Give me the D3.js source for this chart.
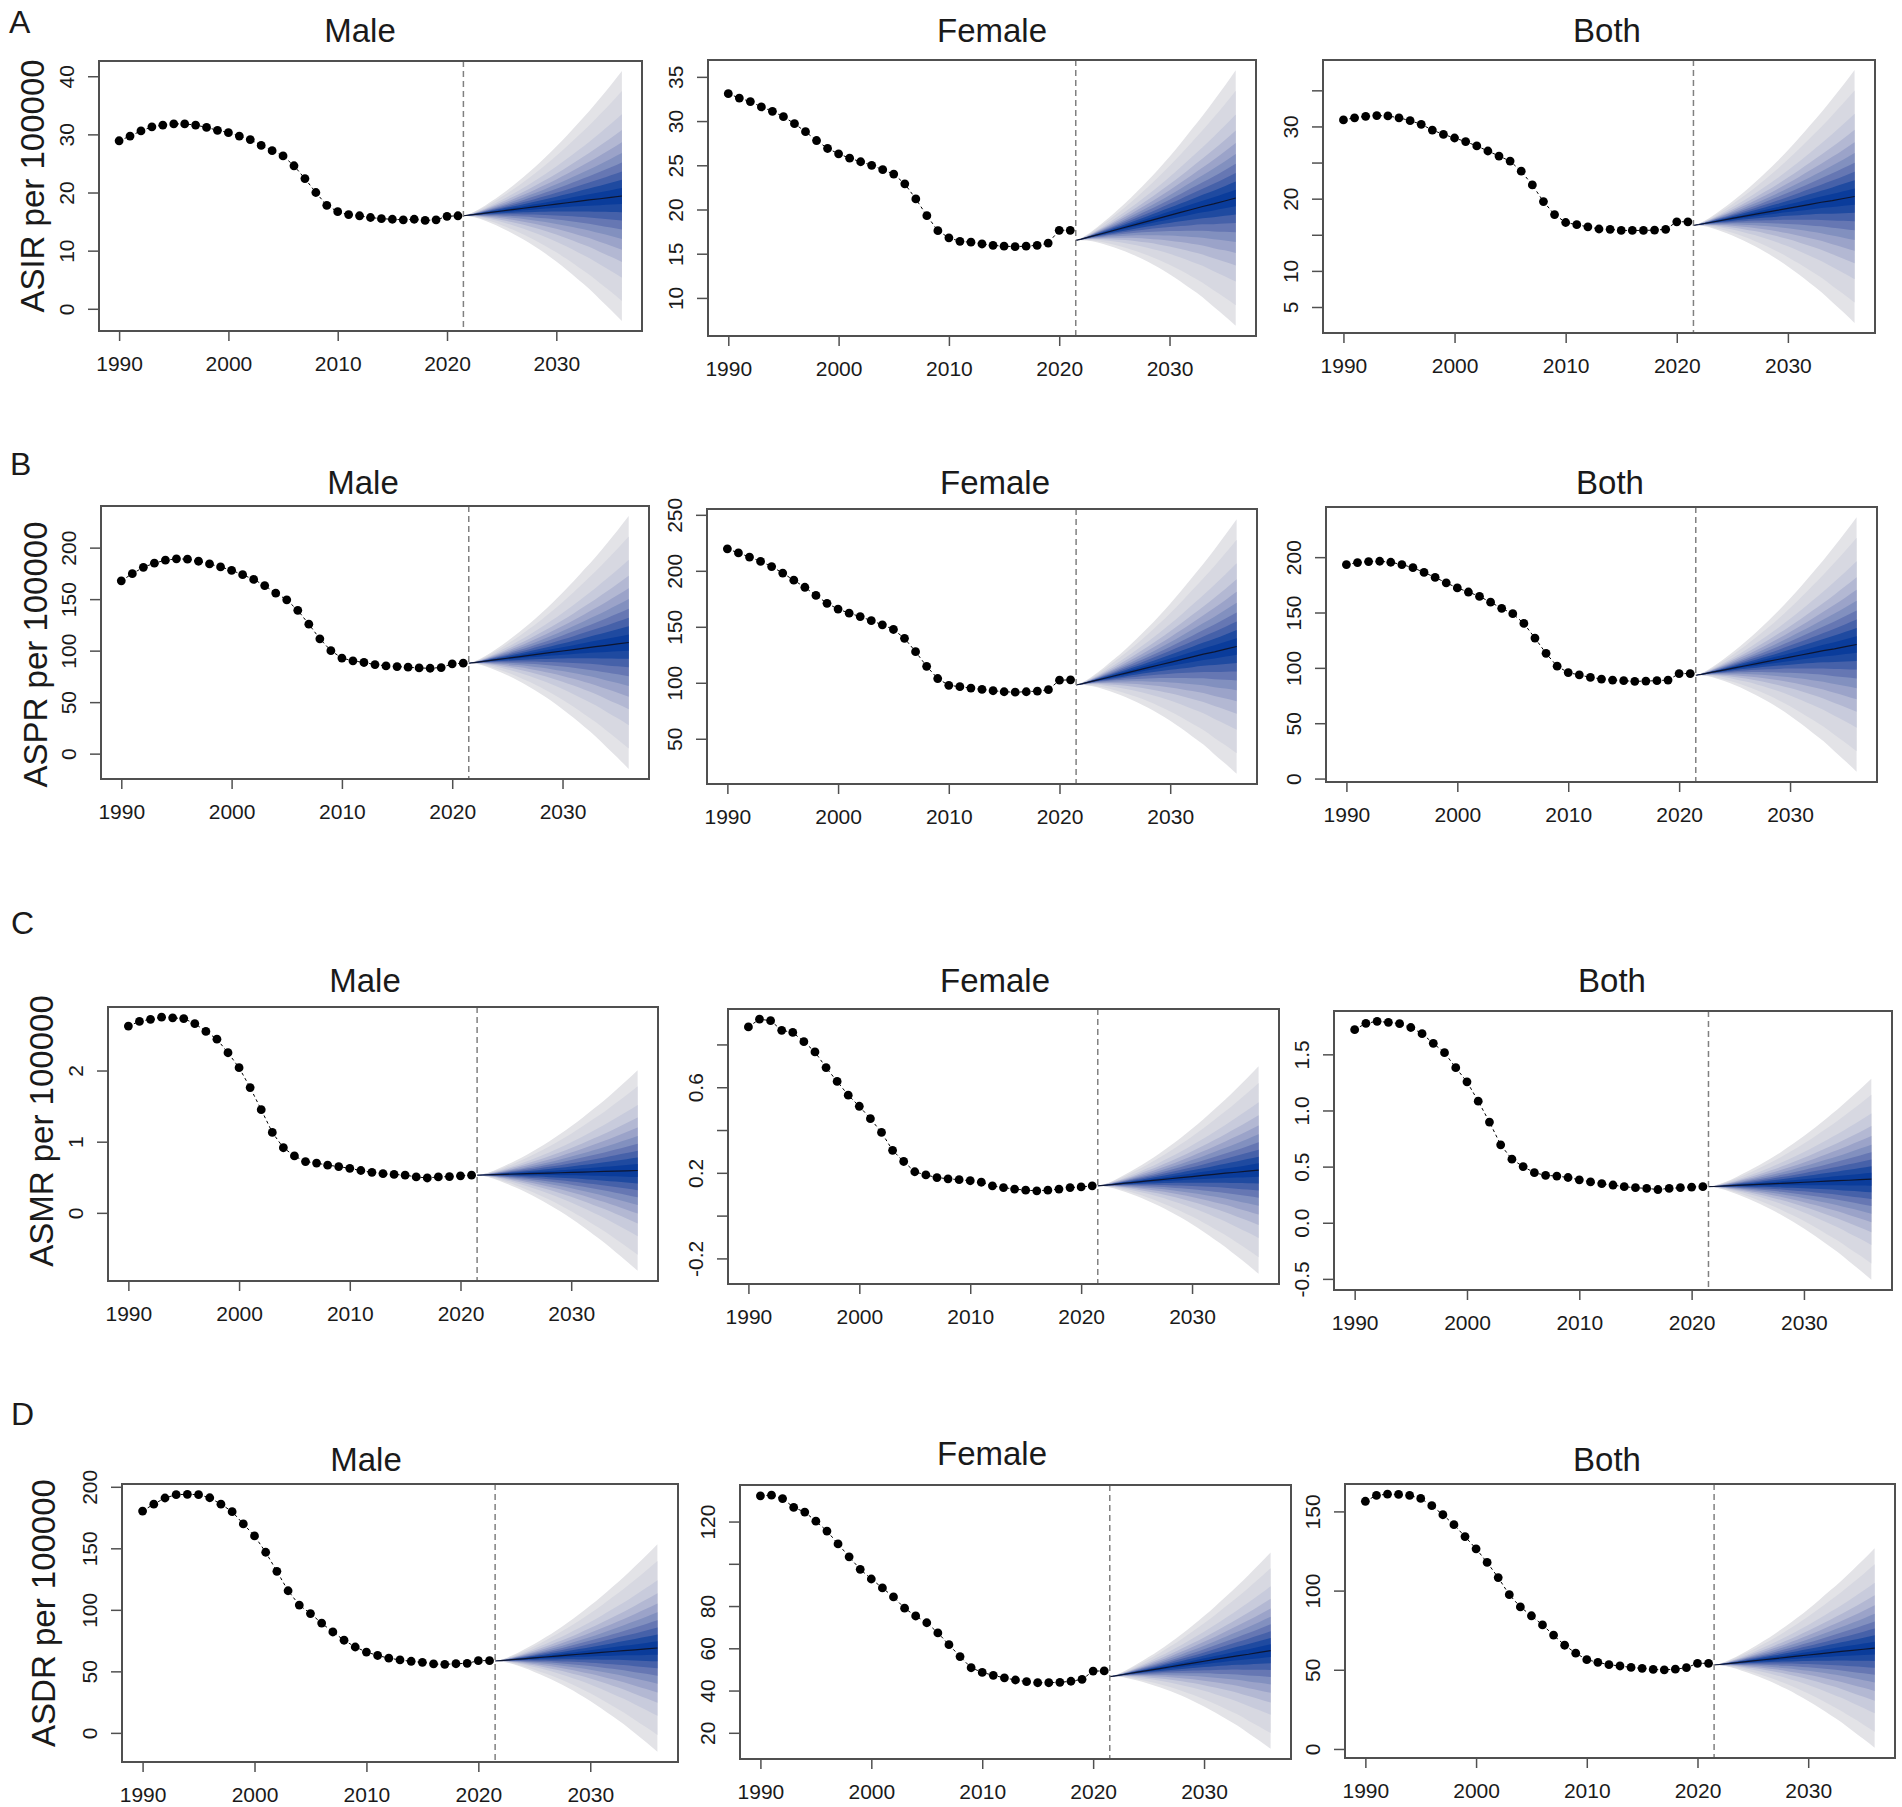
<!DOCTYPE html>
<html>
<head>
<meta charset="utf-8">
<script src="https://cdn.jsdelivr.net/npm/d3@7"></script>
<style>
  body { margin: 0; background: #fff; }
  svg text { font-family: "Liberation Sans", Arial, sans-serif; fill: #1a1a1a; }
</style>
</head>
<body>
<div id="chart"></div>
<script>
// Observed years (1990-2021) and the projection grid (fan starts at the split line)
const years = d3.range(1990, 2022);
const fanYears = [2021.5, 2022, 2023, 2024, 2025, 2026, 2027, 2028, 2029, 2030, 2031, 2032, 2033, 2034, 2035, 2036];
// share of the start->end move of the projected median
const fanTrend = [0, 0.03, 0.10, 0.17, 0.24, 0.31, 0.38, 0.45, 0.52, 0.59, 0.66, 0.73, 0.80, 0.86, 0.93, 1.0];
// share of the final half width of the outer band
const fanSpread = [0, 0.008, 0.04, 0.085, 0.135, 0.19, 0.25, 0.315, 0.385, 0.46, 0.54, 0.625, 0.71, 0.805, 0.90, 1.0];
// normal quantiles of the fan bands (outer -> inner)
const zLevels = [1.96, 1.645, 1.282, 1.036, 0.842, 0.674, 0.524, 0.385, 0.253, 0.126];
const bandColors = ["#e3e3e7", "#d7d8e1", "#c8cbdc", "#b3b8d3", "#9ba3c9", "#8290bf", "#6677b3", "#4661a9", "#1f4aa0", "#0a3c9b"];

const xTicks = [1990, 2000, 2010, 2020, 2030];
const splitYear = 2021.5;
const sexes = ["Male", "Female", "Both"];

// A - incidence
const asirMale = [28.9, 29.7, 30.6, 31.3, 31.6, 31.8, 31.8, 31.6, 31.2, 30.7, 30.3, 29.7, 29.1, 28.1, 27.2, 26.3, 24.6, 22.4, 20.0, 17.8, 16.7, 16.2, 16.0, 15.7, 15.5, 15.4, 15.3, 15.4, 15.2, 15.3, 15.9, 16.0];
const asirFemale = [33.1, 32.6, 32.2, 31.6, 31.1, 30.5, 29.7, 28.8, 27.8, 26.9, 26.3, 25.8, 25.4, 25.0, 24.5, 24.0, 22.9, 21.2, 19.3, 17.6, 16.8, 16.4, 16.3, 16.1, 15.95, 15.85, 15.8, 15.85, 15.95, 16.2, 17.65, 17.65];
const asirBoth = [30.9, 31.2, 31.4, 31.5, 31.45, 31.2, 30.8, 30.3, 29.5, 28.9, 28.4, 27.9, 27.3, 26.6, 25.9, 25.2, 23.8, 21.9, 19.6, 17.8, 16.7, 16.4, 16.1, 15.8, 15.75, 15.6, 15.6, 15.6, 15.65, 15.75, 16.8, 16.8];
const asirFcStart = [16.0, 16.5, 16.3];
const asirFcEnd = [19.4, 21.3, 20.3];
const asirFcHalf = [21.5, 14.45, 17.5];
const asirTicks = [[0, 10, 20, 30, 40], [10, 15, 20, 25, 30, 35], [5, 10, 15, 20, 25, 30, 35]];
const asirTickLabels = [["0", "10", "20", "30", "40"], ["10", "15", "20", "25", "30", "35"], ["5", "10", "", "20", "", "30", ""]];

// B - prevalence
const asprMale = [167.8, 174.7, 180.9, 184.9, 187.8, 189.1, 188.8, 186.8, 184.2, 181.3, 178.0, 173.7, 169.1, 163.2, 155.9, 149.3, 139.1, 125.7, 111.5, 100.0, 92.8, 90.1, 88.5, 86.5, 85.2, 84.5, 83.9, 83.2, 82.9, 83.6, 87.2, 87.8];
const asprFemale = [219.6, 216.0, 212.3, 208.4, 203.8, 198.0, 191.6, 185.3, 178.0, 171.0, 165.8, 162.2, 159.1, 155.5, 151.8, 147.6, 139.7, 127.8, 114.7, 103.8, 97.7, 96.5, 95.3, 94.1, 92.9, 92.0, 91.6, 92.0, 92.6, 93.8, 102.3, 102.6];
const asprBoth = [193.3, 195.1, 196.0, 196.3, 195.4, 193.3, 190.5, 186.2, 181.7, 176.8, 172.2, 168.5, 164.5, 159.3, 153.8, 148.9, 140.1, 126.9, 113.1, 101.5, 95.7, 93.6, 91.4, 89.9, 89.0, 88.4, 87.8, 88.1, 88.4, 89.0, 94.8, 94.8];
const asprFcStart = [87.8, 98.0, 93.3];
const asprFcEnd = [107.9, 132.4, 121.1];
const asprFcHalf = [122.7, 113.7, 115.0];
const asprTicks = [[0, 50, 100, 150, 200], [50, 100, 150, 200, 250], [0, 50, 100, 150, 200]];
const asprTickLabels = [["0", "50", "100", "150", "200"], ["50", "100", "150", "200", "250"], ["0", "50", "100", "150", "200"]];

// C - mortality
const asmrMale = [2.625, 2.69, 2.72, 2.75, 2.74, 2.73, 2.66, 2.55, 2.44, 2.25, 2.04, 1.76, 1.45, 1.13, 0.915, 0.80, 0.72, 0.70, 0.67, 0.65, 0.625, 0.595, 0.57, 0.55, 0.54, 0.53, 0.505, 0.49, 0.505, 0.51, 0.52, 0.53];
const asmrFemale = [0.882, 0.918, 0.911, 0.866, 0.856, 0.813, 0.765, 0.692, 0.627, 0.563, 0.511, 0.453, 0.389, 0.305, 0.253, 0.205, 0.19, 0.178, 0.172, 0.168, 0.163, 0.156, 0.139, 0.131, 0.124, 0.119, 0.116, 0.119, 0.124, 0.131, 0.134, 0.139];
const asmrBoth = [1.72, 1.776, 1.794, 1.785, 1.773, 1.739, 1.684, 1.598, 1.515, 1.381, 1.255, 1.083, 0.897, 0.694, 0.566, 0.50, 0.446, 0.422, 0.416, 0.403, 0.382, 0.364, 0.348, 0.336, 0.321, 0.312, 0.306, 0.296, 0.306, 0.312, 0.318, 0.321];
const asmrFcStart = [0.53, 0.139, 0.321];
const asmrFcEnd = [0.595, 0.213, 0.388];
const asmrFcHalf = [1.41, 0.485, 0.895];
const asmrTicks = [[0, 1, 2], [-0.2, 0, 0.2, 0.4, 0.6, 0.8], [-0.5, 0, 0.5, 1, 1.5]];
const asmrTickLabels = [["0", "1", "2"], ["-0.2", "", "0.2", "", "0.6", ""], ["-0.5", "0.0", "0.5", "1.0", "1.5"]];

// D - DALYs
const asdrMale = [180.3, 185.9, 190.9, 193.6, 193.9, 193.6, 191.1, 185.9, 179.8, 169.8, 160.1, 146.8, 131.3, 115.5, 103.9, 97.0, 89.2, 82.0, 75.3, 69.8, 65.7, 62.9, 60.7, 59.3, 58.2, 57.3, 56.0, 55.7, 56.2, 56.5, 58.7, 58.7];
const asdrFemale = [132.2, 132.5, 130.9, 126.7, 124.5, 120.2, 115.5, 109.4, 103.3, 97.4, 92.8, 88.6, 84.3, 79.0, 75.3, 72.1, 67.3, 61.7, 56.1, 50.8, 48.6, 47.2, 46.0, 45.0, 44.2, 43.7, 43.7, 43.9, 44.4, 45.3, 49.2, 49.3];
const asdrBoth = [156.4, 160.1, 160.9, 160.7, 160.1, 158.2, 153.6, 147.9, 141.6, 134.1, 126.4, 117.8, 108.2, 97.4, 89.7, 84.1, 78.3, 71.9, 65.5, 60.5, 56.4, 54.7, 53.2, 52.4, 51.5, 50.9, 50.2, 50.0, 50.4, 51.3, 54.1, 54.1];
const asdrFcStart = [58.4, 46.6, 53.0];
const asdrFcEnd = [69.0, 58.9, 63.7];
const asdrFcHalf = [84.3, 46.5, 63.0];
const asdrTicks = [[0, 50, 100, 150, 200], [20, 40, 60, 80, 100, 120], [0, 50, 100, 150]];
const asdrTickLabels = [["0", "50", "100", "150", "200"], ["20", "40", "60", "80", "", "120"], ["0", "50", "100", "150"]];

// rows of the figure
const rows = [
  { letter: "A", ylab: "ASIR per 100000", obs: [asirMale, asirFemale, asirBoth], start: asirFcStart, end: asirFcEnd, half: asirFcHalf, ticks: asirTicks, labels: asirTickLabels },
  { letter: "B", ylab: "ASPR per 100000", obs: [asprMale, asprFemale, asprBoth], start: asprFcStart, end: asprFcEnd, half: asprFcHalf, ticks: asprTicks, labels: asprTickLabels },
  { letter: "C", ylab: "ASMR per 100000", obs: [asmrMale, asmrFemale, asmrBoth], start: asmrFcStart, end: asmrFcEnd, half: asmrFcHalf, ticks: asmrTicks, labels: asmrTickLabels },
  { letter: "D", ylab: "ASDR per 100000", obs: [asdrMale, asdrFemale, asdrBoth], start: asdrFcStart, end: asdrFcEnd, half: asdrFcHalf, ticks: asdrTicks, labels: asdrTickLabels }
];

// plot boxes [left, top, right, bottom] for each panel, measured on the figure
const boxes = [
  [[99, 61, 642, 331], [708, 60, 1256, 336], [1323, 60, 1875, 333]],
  [[101, 506, 649, 779], [707, 509, 1257, 784], [1326, 507, 1877, 782]],
  [[108, 1007, 658, 1281], [728, 1009, 1279, 1284], [1334, 1011, 1892, 1290]],
  [[122, 1484, 678, 1762], [740, 1485, 1291, 1759], [1345, 1484, 1895, 1758]]
];
// title centres and baselines
const titlePos = [
  [[360, 42], [992, 42], [1607, 42]],
  [[363, 494], [995, 494], [1610, 494]],
  [[365, 992], [995, 992], [1612, 992]],
  [[366, 1471], [992, 1465], [1607, 1471]]
];
const letterPos = [[9, 33], [10, 475], [11, 934], [11, 1425]];
// y label centre: distance left of the box and shift from the box middle
const ylabPos = [[67, -10], [66, 12], [67, -13], [79, -10]];

const svg = d3.select("#chart").append("svg")
  .attr("width", 1902)
  .attr("height", 1807)
  .style("display", "block");

rows.forEach((row, r) => {
  svg.append("text")
    .attr("x", letterPos[r][0])
    .attr("y", letterPos[r][1])
    .style("font-size", "32px")
    .text(row.letter);

  sexes.forEach((sex, c) => {
    const [left, top, right, bottom] = boxes[r][c];
    const obs = row.obs[c];

    // projected median and sd for each projection year
    const sd0 = row.half[c] / zLevels[0];
    const fan = fanYears.map((yr, i) => ({
      year: yr,
      med: row.start[c] + fanTrend[i] * (row.end[c] - row.start[c]),
      sd: sd0 * fanSpread[i]
    }));

    // R style limits: data range plus 4% each side
    const yLo = Math.min(d3.min(obs), d3.min(fan, d => d.med - zLevels[0] * d.sd));
    const yHi = Math.max(d3.max(obs), d3.max(fan, d => d.med + zLevels[0] * d.sd));
    const yPad = (yHi - yLo) * 0.04;
    const xPad = (2036 - 1990) * 0.04;

    const x = d3.scaleLinear().domain([1990 - xPad, 2036 + xPad]).range([left, right]);
    const y = d3.scaleLinear().domain([yLo - yPad, yHi + yPad]).range([bottom, top]);

    const g = svg.append("g");

    // fan bands, outer first
    zLevels.forEach((z, k) => {
      const area = d3.area()
        .curve(d3.curveMonotoneX)
        .x(d => x(d.year))
        .y0(d => y(d.med - z * d.sd))
        .y1(d => y(d.med + z * d.sd));
      g.append("path")
        .datum(fan)
        .attr("d", area)
        .attr("fill", bandColors[k]);
    });

    // projected median
    g.append("path")
      .datum(fan)
      .attr("d", d3.line().x(d => x(d.year)).y(d => y(d.med)))
      .attr("fill", "none")
      .attr("stroke", "#0d1530")
      .attr("stroke-width", 1.2);

    // split line
    g.append("line")
      .attr("x1", x(splitYear)).attr("x2", x(splitYear))
      .attr("y1", top).attr("y2", bottom)
      .attr("stroke", "#808080")
      .attr("stroke-width", 1.5)
      .attr("stroke-dasharray", "6,4");

    // observed series
    g.append("path")
      .datum(obs)
      .attr("d", d3.line().x((d, i) => x(years[i])).y(d => y(d)))
      .attr("fill", "none")
      .attr("stroke", "#000")
      .attr("stroke-width", 1)
      .attr("stroke-dasharray", "3,3");

    g.selectAll(".pt")
      .data(obs)
      .enter().append("circle")
      .attr("class", "pt")
      .attr("cx", (d, i) => x(years[i]))
      .attr("cy", d => y(d))
      .attr("r", 4.4)
      .attr("fill", "#000");

    // box
    g.append("rect")
      .attr("x", left).attr("y", top)
      .attr("width", right - left).attr("height", bottom - top)
      .attr("fill", "none")
      .attr("stroke", "#505050")
      .attr("stroke-width", 2);

    // x axis
    const xAxis = g.append("g")
      .attr("transform", `translate(0,${bottom})`)
      .call(d3.axisBottom(x).tickValues(xTicks).tickSize(10).tickPadding(15).tickFormat(d3.format("d")));
    xAxis.select(".domain").remove();
    xAxis.selectAll("line").attr("stroke", "#505050").attr("stroke-width", 1.5);
    xAxis.selectAll("text").style("font-size", "21px").attr("fill", "#1a1a1a");

    // y axis, labels turned like R's default
    const labels = row.labels[c];
    const yAxis = g.append("g")
      .attr("transform", `translate(${left},0)`)
      .call(d3.axisLeft(y).tickValues(row.ticks[c]).tickSize(11).tickFormat((d, i) => labels[i]));
    yAxis.select(".domain").remove();
    yAxis.selectAll("line").attr("stroke", "#505050").attr("stroke-width", 1.5);
    yAxis.selectAll("text")
      .attr("x", null).attr("dy", null)
      .attr("transform", "translate(-25,0) rotate(-90)")
      .attr("text-anchor", "middle")
      .style("font-size", "21px")
      .attr("fill", "#1a1a1a");

    // title
    svg.append("text")
      .attr("x", titlePos[r][c][0])
      .attr("y", titlePos[r][c][1])
      .attr("text-anchor", "middle")
      .style("font-size", "33px")
      .text(sex);

    // y label only on the first column
    if (c === 0) {
      const cx = left - ylabPos[r][0];
      const cy = (top + bottom) / 2 + ylabPos[r][1];
      svg.append("text")
        .attr("transform", `translate(${cx + 12},${cy}) rotate(-90)`)
        .attr("text-anchor", "middle")
        .style("font-size", "33px")
        .text(row.ylab);
    }
  });
});
</script>
</body>
</html>
